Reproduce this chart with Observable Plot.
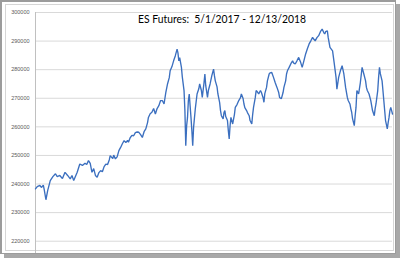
<!DOCTYPE html>
<html>
<head>
<meta charset="utf-8">
<script src="https://cdn.jsdelivr.net/npm/d3@7"></script>
<script src="https://cdn.jsdelivr.net/npm/@observablehq/plot@0.6"></script>
<style>
  html, body { margin: 0; padding: 0; background: #fff; }
  #wrap { position: relative; width: 400px; height: 258px; background: #fff; overflow: hidden; }
  .outer { position: absolute; left: 0; top: 0; width: 393px; height: 251px; border: 2px solid #9c9c9c; border-right-width: 1px; border-bottom-width: 1px; box-shadow: 4px 4px 0 #a8a8a8; box-sizing: content-box; }
  .inner { position: absolute; left: 5px; top: 4px; width: 387px; height: 245px; border: 1px solid #d6d6d6; }
  #chart { position: absolute; left: 0; top: 0; }
</style>
</head>
<body>
<div id="wrap">
  <div class="outer"></div>
  <div class="inner"></div>
  <div id="chart"></div>
</div>
<script>
const title = "ES Futures:  5/1/2017 - 12/13/2018";
const yTicks = [220000, 230000, 240000, 250000, 260000, 270000, 280000, 290000, 300000];
// trading-day index since 5/1/2017
const day = [
  0,2,5,7,9,10,12,14,17,20,23,25,28,31,34,37,40,42,44,48,51,54,57,59,61,63,65,67,69,71,73,75,
  77,79,81,83,85,86,89,90,92,94,96,98,100,102,104,106,107,109,111,113,115,117,119,121,123,125,127,129,130,132,134,136,138,140,142,144,146,
  148,150,152,154,155,157,159,161,163,164,165,166,168,169,171,172,173,174,175,176,177,178,179,180,181,182,184,186,188,189,191,192,194,195,196,198,199,201,203,205,206,207,209,210,
  212,213,214,216,217,218,219,221,222,223,224,225,226,227,229,230,232,234,236,237,239,240,241,243,244,246,247,249,250,251,253,254,256,257,259,260,262,263,264,266,267,269,270,272,
  274,276,278,280,281,283,285,286,288,289,290,292,294,296,297,299,301,303,305,307,309,311,313,315,317,319,320,322,324,326,328,330,332,333,334,336,337,339,
  342,344,346,347,349,351,353,355,357,359,360,362,363,364,365,367,368,369,370,372,374,376,378,380,381,382,384,386,387,388,390,391,392,394,395,396,397,399,400,401,402,403,404,405,406,407,408,409,410,411
];
const price = [
  238300,239100,239500,238800,239600,238100,234500,237700,241200,242600,243600,242600,243000,241900,244100,243000,241800,243000,241200,244100,247000,246500,247300,246800,248200,247200,244100,245400,243000,242400,244000,244700,
  244300,246100,247000,246800,248500,249900,248900,250100,248800,249500,251700,252800,254100,255200,254500,255300,254600,256200,257000,256900,258000,258200,258100,257300,256300,258300,259300,261500,263300,264600,265100,266400,264500,266400,267400,269200,269200,
  268000,272000,275000,277200,279600,281000,283100,284900,287200,285900,283100,284200,280800,277500,272700,265700,253400,260400,263300,269200,271500,267400,263300,258700,253400,259800,266400,271500,273300,275000,272700,270300,275400,278500,274400,270300,272700,275000,277900,280200,277900,276100,274000,271500,
  268500,265700,263900,262800,265000,265700,263600,262200,258700,255800,260400,263300,262200,261000,264300,266800,267800,269200,270200,271500,269900,268000,266700,265700,265000,263900,262200,261000,264300,266800,270200,272700,272000,271500,272700,272100,270200,268600,271600,273800,276100,278500,278900,279000,
  277300,275400,273800,272000,270300,269800,272000,273800,276100,278500,279600,280800,282100,283100,282400,282000,283100,284300,282800,280800,283100,285500,287300,289000,290100,291300,290800,290100,291200,291900,293300,294200,292900,292500,293300,293600,291200,287800,
  286600,282000,277300,273200,277300,279600,281400,278500,273800,270300,269200,268000,266400,265100,262900,260400,263900,266800,272700,271500,275500,280800,278500,276100,273800,272700,271500,269200,267400,265700,263900,266400,268000,272700,277300,280800,278600,276100,272700,269200,265700,262200,260800,259300,261500,263300,265700,266800,265700,264500
];
const data = day.map((d, i) => ({day: d, price: price[i]}));

const chart = Plot.plot({
  width: 400,
  height: 258,
  marginLeft: 35,
  marginRight: 8,
  marginTop: 12,
  marginBottom: 5,
  style: {background: "transparent", overflow: "visible"},
  x: {domain: [0, 411], axis: null},
  y: {domain: [215700, 300000], axis: null},
  marks: [
    Plot.ruleY(yTicks, {stroke: "#d9d9d9", strokeWidth: 1}),
    Plot.ruleX([0], {stroke: "#c0c0c0", strokeWidth: 1}),
    Plot.axisY({ticks: yTicks, tickSize: 0, tickPadding: 6, fontSize: 5.5, fill: "#595959", label: null,
      fontFamily: "Liberation Sans, Arial, sans-serif", tickFormat: d => String(d)}),
    Plot.line(data, {x: "day", y: "price", stroke: "#3b6fbf", strokeWidth: 1.35, strokeLinejoin: "miter"})
  ]
});
document.getElementById("chart").appendChild(chart);

d3.select(chart).append("text")
  .attr("x", 222).attr("y", 22.7)
  .attr("text-anchor", "middle")
  .attr("font-family", "Lato, 'Open Sans', sans-serif")
  .attr("font-size", 11.5)
  .attr("fill", "#000")
  .attr("textLength", 168)
  .attr("lengthAdjust", "spacingAndGlyphs")
  .style("white-space", "pre")
  .text(title);
</script>
</body>
</html>
